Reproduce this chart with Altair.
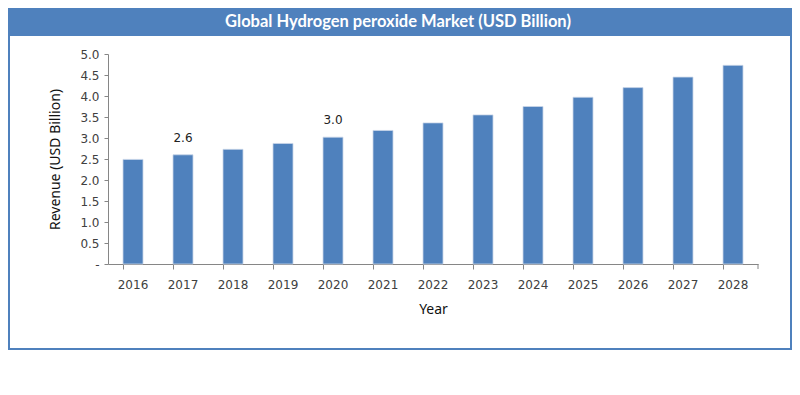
import altair as alt
import pandas as pd

years = ["2016", "2017", "2018", "2019", "2020", "2021", "2022",
         "2023", "2024", "2025", "2026", "2027", "2028"]
revenue = [2.49, 2.60, 2.73, 2.87, 3.02, 3.18, 3.36, 3.55, 3.75, 3.97, 4.20, 4.45, 4.73]
label_years = ["2017", "2020"]
label_texts = ["2.6", "3.0"]
y_ticks = [0, 0.5, 1.0, 1.5, 2.0, 2.5, 3.0, 3.5, 4.0, 4.5, 5.0]
title_text = "Global Hydrogen peroxide Market (USD Billion)"

BLUE = "#4F81BD"
GRAY = "#868686"
LFONT = "DejaVu Sans"
TFONT = "Noto Sans"

df = pd.DataFrame({"Year": years, "Revenue": revenue})
lab = pd.DataFrame({"Year": label_years, "Label": label_texts,
                    "Revenue": [revenue[years.index(y)] for y in label_years]})

x_enc = alt.X("Year:N", sort=years,
              scale=alt.Scale(paddingInner=0.6, paddingOuter=0.3),
              axis=alt.Axis(title="Year", labelAngle=0, bandPosition=0,
                            tickSize=5, labelPadding=10, titlePadding=12,
                            grid=False))
y_enc = alt.Y("Revenue:Q", scale=alt.Scale(domain=[0, 5], nice=False),
              axis=alt.Axis(title="Revenue (USD Billion)", values=y_ticks,
                            labelExpr="datum.value == 0 ? '-' : format(datum.value, '.1f')",
                            labelOverlap=False,
                            tickSize=4, labelPadding=5, titlePadding=17, grid=False))

bars = alt.Chart(df).mark_bar(color=BLUE, stroke="#c9d6e8", strokeWidth=0.8).encode(
    x=x_enc, y=y_enc)

labels = alt.Chart(lab).mark_text(dy=-17, fontSize=12, font=LFONT, color="#222222").encode(
    x=x_enc, y=y_enc, text="Label:N")

band = alt.Chart(pd.DataFrame({"t": [title_text]})).mark_rect(color=BLUE, clip=False).encode(
    x=alt.value(-100), x2=alt.value(684), y=alt.value(-46), y2=alt.value(-18))

title = alt.Chart(pd.DataFrame({"t": [title_text]})).mark_text(
    color="white", fontSize=16.5, fontWeight="bold", font="Lato", clip=False,
    baseline="middle", align="center").encode(
    x=alt.value(290), y=alt.value(-32), text="t:N")

frame = alt.Chart(pd.DataFrame({"t": [title_text]})).mark_rect(
    fill=None, stroke=BLUE, strokeWidth=2, clip=False).encode(
    x=alt.value(-99), x2=alt.value(683), y=alt.value(-45), y2=alt.value(295))

end_tick = alt.Chart(pd.DataFrame({"t": [title_text]})).mark_rule(color=GRAY, strokeWidth=1).encode(
    x=alt.value(650), y=alt.value(210), y2=alt.value(215))

chart = alt.layer(band, frame, bars, labels, title, end_tick).properties(
    width=650, height=210,
    autosize=alt.AutoSizeParams(type="none"),
    padding={"left": 100, "top": 46, "right": 34, "bottom": 90},
).configure_view(stroke=None).configure_axis(
    domainColor=GRAY, tickColor=GRAY, labelFont=LFONT, titleFont=TFONT,
    labelFontSize=12, labelColor="#404040", titleFontSize=14,
    titleColor="#111111", titleFontWeight="normal",
)

chart.save("out.html", embed_options={"renderer": "svg", "actions": False})
